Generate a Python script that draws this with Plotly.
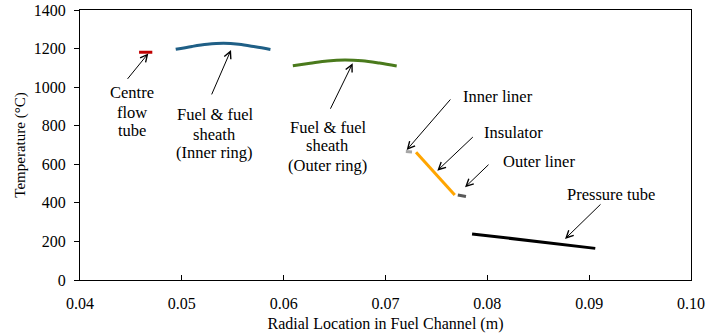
import plotly.graph_objects as go

# Data
cft_x = [0.0458, 0.0471]
cft_y = [1181, 1181]

inner_x = [0.0494, 0.0510, 0.0525, 0.0541, 0.0556, 0.0572, 0.0587]
inner_y = [1196, 1211, 1222, 1227, 1222, 1209, 1195]

outer_x = [0.0609, 0.0626, 0.0643, 0.0660, 0.0677, 0.0694, 0.0711]
outer_y = [1111, 1124, 1136, 1141, 1137, 1125, 1110]

iliner_x = [0.0720, 0.0726]
iliner_y = [666, 664]

insul_x = [0.0730, 0.0768]
insul_y = [662, 441]

oliner_x = [0.0771, 0.0779]
oliner_y = [441, 433]

pt_x = [0.0785, 0.0906]
pt_y = [239, 164]

x_ticks = [0.04, 0.05, 0.06, 0.07, 0.08, 0.09, 0.10]
x_tick_text = ["0.04", "0.05", "0.06", "0.07", "0.08", "0.09", "0.10"]
y_ticks = [0, 200, 400, 600, 800, 1000, 1200, 1400]

FONT = "Liberation Serif, Times New Roman, serif"
TXT = 16.5

fig = go.Figure()
series = [
    (cft_x, cft_y, "#C00000", "linear"),
    (inner_x, inner_y, "#1F5F86", "spline"),
    (outer_x, outer_y, "#4A7A1C", "spline"),
    (iliner_x, iliner_y, "#A6A6A6", "linear"),
    (insul_x, insul_y, "#FFA500", "linear"),
    (oliner_x, oliner_y, "#595959", "linear"),
    (pt_x, pt_y, "#000000", "linear"),
]
for xs, ys, c, shp in series:
    fig.add_trace(go.Scatter(x=xs, y=ys, mode="lines",
                             line=dict(color=c, width=3, shape=shp),
                             showlegend=False, hoverinfo="skip"))

# Arrows: (head_x, head_y, ax, ay)
arrows = [
    (0.04671, 1175, -22, 27),
    (0.05483, 1193, -20, 46),
    (0.06678, 1124, -23, 47),
    (0.07208, 674, 45, -52),
    (0.07509, 567, 37, -35),
    (0.07781, 481, 25, -24),
    (0.08763, 213, 37, -36),
]
for hx, hy, ax, ay in arrows:
    fig.add_annotation(x=hx, y=hy, ax=ax, ay=ay, xref="x", yref="y",
                       showarrow=True, arrowhead=5, arrowsize=1.4,
                       arrowwidth=1, arrowcolor="#000000", text="")

labels = [
    ("Centre", 0.04508, 970, "center"),
    ("flow", 0.04508, 871, "center"),
    ("tube", 0.04508, 773, "center"),
    ("Fuel &amp; fuel", 0.05321, 856, "center"),
    ("sheath", 0.05321, 757, "center"),
    ("(Inner ring)", 0.05321, 659, "center"),
    ("Fuel &amp; fuel", 0.06435, 793, "center"),
    ("sheath", 0.06435, 695, "center"),
    ("(Outer ring)", 0.06435, 596, "center"),
    ("Inner liner", 0.07742, 949, "left"),
    ("Insulator", 0.07948, 767, "left"),
    ("Outer liner", 0.08134, 612, "left"),
    ("Pressure tube", 0.08763, 441, "left"),
]
for txt, tx, ty, anc in labels:
    fig.add_annotation(x=tx, y=ty, xref="x", yref="y", text=txt,
                       showarrow=False, xanchor=anc, yanchor="middle",
                       align="center",
                       font=dict(family=FONT, size=TXT, color="#000000"))

fig.update_layout(
    width=707, height=335,
    margin=dict(l=80, r=16, t=10, b=55),
    paper_bgcolor="white", plot_bgcolor="white",
    font=dict(family=FONT, size=16, color="#000000"),
)
fig.update_xaxes(range=[0.04, 0.10], tickvals=x_ticks, ticktext=x_tick_text,
                 automargin=False,
                 showgrid=False, zeroline=False, showline=True,
                 linecolor="#000000", linewidth=1, mirror=True,
                 ticks="inside", ticklen=5, tickcolor="#000000",
                 ticklabelstandoff=9,
                 tickfont=dict(family=FONT, size=16),
                 title=dict(text="Radial Location in Fuel Channel (m)",
                            font=dict(family=FONT, size=16), standoff=6))
fig.update_yaxes(range=[0, 1400], tickvals=y_ticks,
                 automargin=False,
                 showgrid=False, zeroline=False, showline=True,
                 linecolor="#000000", linewidth=1, mirror=True,
                 ticks="outside", ticklen=5, tickcolor="#000000",
                 ticklabelstandoff=5,
                 tickfont=dict(family=FONT, size=16),
                 title=dict(text="Temperature (°C)",
                            font=dict(family=FONT, size=15), standoff=4))

fig.write_html("out.html")
